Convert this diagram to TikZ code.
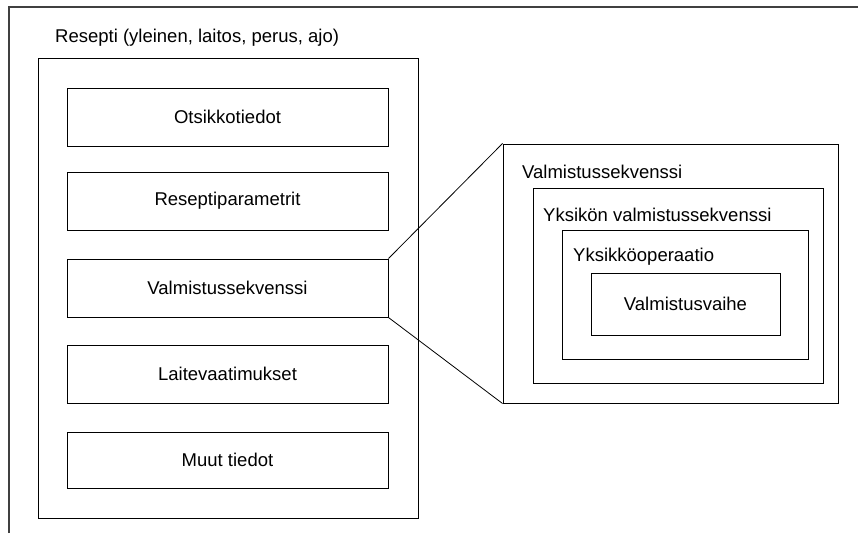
\documentclass[tikz,border=0pt]{standalone}
\usepackage{fontspec}
\setmainfont{Liberation Sans}
\usepackage{tikz}

\tikzset{
    lohko/.style={draw, line width=1pt, inner sep=0pt},
    rivi/.style={lohko, minimum width=321pt, minimum height=58pt},
    otsake/.style={anchor=west, inner sep=0pt}
}

\begin{document}
\begin{tikzpicture}[x=1pt, y=-1pt, font=\fontsize{18.5}{22}\selectfont]
            \useasboundingbox (0, 0) rectangle (858, 533);
            % kehys
            \draw[line width=1.4pt, black!75] (9, 533) -- (9, 7) -- (858, 7);
            % resepti
            \node[lohko, minimum width=380pt, minimum height=460pt] (resepti) at (228, 288) {};
            \node[otsake] (reseptiots) at (55, 38) {Resepti (yleinen, laitos, perus, ajo)};
            \node[rivi] (otsikko) at (227.5, 117) {Otsikkotiedot};
            \node[rivi] (parametrit) at (227.5, 201) {Reseptiparametrit};
            \node[rivi] (sekvenssi) at (227.5, 288) {Valmistussekvenssi};
            \node[rivi] (laite) at (227.5, 374) {Laitevaatimukset};
            \node[rivi, minimum height=56pt] (muut) at (227.5, 460) {Muut tiedot};
            % valmistussekvenssi tarkemmin
            \node[lohko, minimum width=335pt, minimum height=259pt] (vsek) at (670.5, 273.5) {};
            \node[otsake] (vsekots) at (522, 172) {Valmistussekvenssi};
            \node[lohko, minimum width=290pt, minimum height=195pt] (ysek) at (678, 285.5) {};
            \node[otsake] (ysekots) at (543, 215) {Yksikön valmistussekvenssi};
            \node[lohko, minimum width=246pt, minimum height=129pt] (yop) at (685, 294.5) {};
            \node[otsake] (yopots) at (573, 257) {Yksikköoperaatio};
            \node[lohko, minimum width=189pt, minimum height=62pt] (vaihe) at (685.5, 304) {Valmistusvaihe};
            \draw[line width=0.8pt] (sekvenssi.north east) -- (vsek.north west);
            \draw[line width=0.8pt] (sekvenssi.south east) -- (vsek.south west);
        \end{tikzpicture}
\end{document}
